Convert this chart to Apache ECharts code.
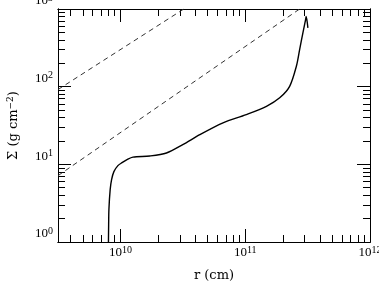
<!DOCTYPE html>
<html>
<head>
<meta charset="utf-8">
<script src="https://cdn.jsdelivr.net/npm/echarts/dist/echarts.min.js"></script>
<style>html,body{margin:0;padding:0;background:#fff}#c{width:379px;height:281px}</style>
</head>
<body>
<div id="c"></div>
<script>
// ---- data ----
const rCurve = [8.02e9, 8.05e9, 8.09e9, 8.28e9, 8.5e9, 8.87e9, 9.55e9, 1.03e10, 1.13e10, 1.26e10, 1.72e10, 2.34e10, 3.16e10, 4.33e10, 6.64e10, 1.02e11, 1.48e11, 1.89e11, 2.27e11, 2.57e11, 2.73e11, 2.90e11, 3.05e11, 3.08e11, 3.18e11];
const sigmaCurve = [1.0, 1.67, 2.61, 4.72, 6.35, 8.05, 9.62, 10.5, 11.5, 12.4, 12.8, 14.0, 17.9, 24.1, 34.2, 43.7, 55.9, 71.8, 101, 183, 300, 493, 734, 800, 572];
const rDashUpper = [3.1623e9, 3.22e10];
const sigmaDashUpper = [91.8, 1000];
const rDashLower = [3.1623e9, 2.73e11];
const sigmaDashLower = [7.15, 1000];
const xRange = [3.1623e9, 1e12];
const yRange = [1, 1000];
const xMajorTicks = [1e10, 1e11];
const xLabelTicks = [1e10, 1e11, 1e12];
const xMinorTicks = [4e9, 5e9, 6e9, 7e9, 8e9, 9e9, 2e10, 3e10, 4e10, 5e10, 6e10, 7e10, 8e10, 9e10, 2e11, 3e11, 4e11, 5e11, 6e11, 7e11, 8e11, 9e11];
const yMajorTicks = [10, 100];
const yLabelTicks = [1, 10, 100, 1000];
const yMinorTicks = [2, 3, 4, 5, 6, 7, 8, 9, 20, 30, 40, 50, 60, 70, 80, 90, 200, 300, 400, 500, 600, 700, 800, 900];

const zip = (a, b) => a.map((v, i) => [v, b[i]]);
const supFmt = v => '{b|10}{s|' + Math.round(Math.log10(v)) + '}';
const tickFont = 'Liberation Serif';
const titleFont = 'DejaVu Serif';
const rich = {
  b: { fontFamily: tickFont, fontSize: 13, color: '#000' },
  s: { fontFamily: tickFont, fontSize: 10, color: '#000', padding: [0, 0, 6, 0] }
};

function mkX(pos, ticks, len, label, extra) {
  return Object.assign({
    type: 'log', logBase: 10, min: xRange[0], max: xRange[1], position: pos,
    axisLine: { show: true, lineStyle: { color: '#000', width: 1 } },
    axisTick: { show: true, inside: true, length: len, customValues: ticks, lineStyle: { color: '#000', width: 1 } },
    axisLabel: label ? { show: true, customValues: xLabelTicks, formatter: supFmt, rich: rich, margin: 3 } : { show: false },
    splitLine: { show: false }, minorTick: { show: false }
  }, extra || {});
}
function mkY(pos, ticks, len, label, extra) {
  return Object.assign({
    type: 'log', logBase: 10, min: yRange[0], max: yRange[1], position: pos,
    axisLine: { show: true, lineStyle: { color: '#000', width: 1 } },
    axisTick: { show: true, inside: true, length: len, customValues: ticks, lineStyle: { color: '#000', width: 1 } },
    axisLabel: label ? { show: true, customValues: yLabelTicks, formatter: supFmt, rich: rich, margin: 5, verticalAlign: 'bottom' } : { show: false },
    splitLine: { show: false }, minorTick: { show: false }
  }, extra || {});
}

const chart = echarts.init(document.getElementById('c'), null, { renderer: 'canvas' });
chart.setOption({
  animation: false,
  backgroundColor: '#fff',
  grid: { left: 58, right: 9, top: 9, bottom: 39, containLabel: false, outerBoundsMode: 'none' },
  xAxis: [
    mkX('bottom', xMajorTicks, 13, true, {
      name: 'r (cm)', nameLocation: 'middle', nameGap: 27,
      nameTextStyle: { fontFamily: titleFont, fontSize: 13, color: '#000' }
    }),
    mkX('bottom', xMinorTicks, 7, false),
    mkX('top', xMajorTicks, 13, false),
    mkX('top', xMinorTicks, 7, false)
  ],
  yAxis: [
    mkY('left', yMajorTicks, 13, true, {
      name: '{t|Σ (g cm}{s|−2}{t|)}', nameLocation: 'middle', nameGap: 37, nameRotate: 90,
      nameTextStyle: {
        color: '#000',
        rich: {
          t: { fontFamily: titleFont, fontSize: 13, color: '#000' },
          s: { fontFamily: titleFont, fontSize: 9, color: '#000', padding: [0, 0, 6, 0] }
        }
      }
    }),
    mkY('left', yMinorTicks, 7, false),
    mkY('right', yMajorTicks, 13, false),
    mkY('right', yMinorTicks, 7, false)
  ],
  series: [
    { type: 'line', data: zip(rCurve, sigmaCurve), showSymbol: false, smooth: 0.3, clip: true,
      lineStyle: { color: '#000', width: 1.4 } },
    { type: 'line', data: zip(rDashUpper, sigmaDashUpper), showSymbol: false, clip: true,
      lineStyle: { color: '#333', width: 1, type: [5, 4] } },
    { type: 'line', data: zip(rDashLower, sigmaDashLower), showSymbol: false, clip: true,
      lineStyle: { color: '#333', width: 1, type: [5, 4] } }
  ]
});
</script>
</body>
</html>
